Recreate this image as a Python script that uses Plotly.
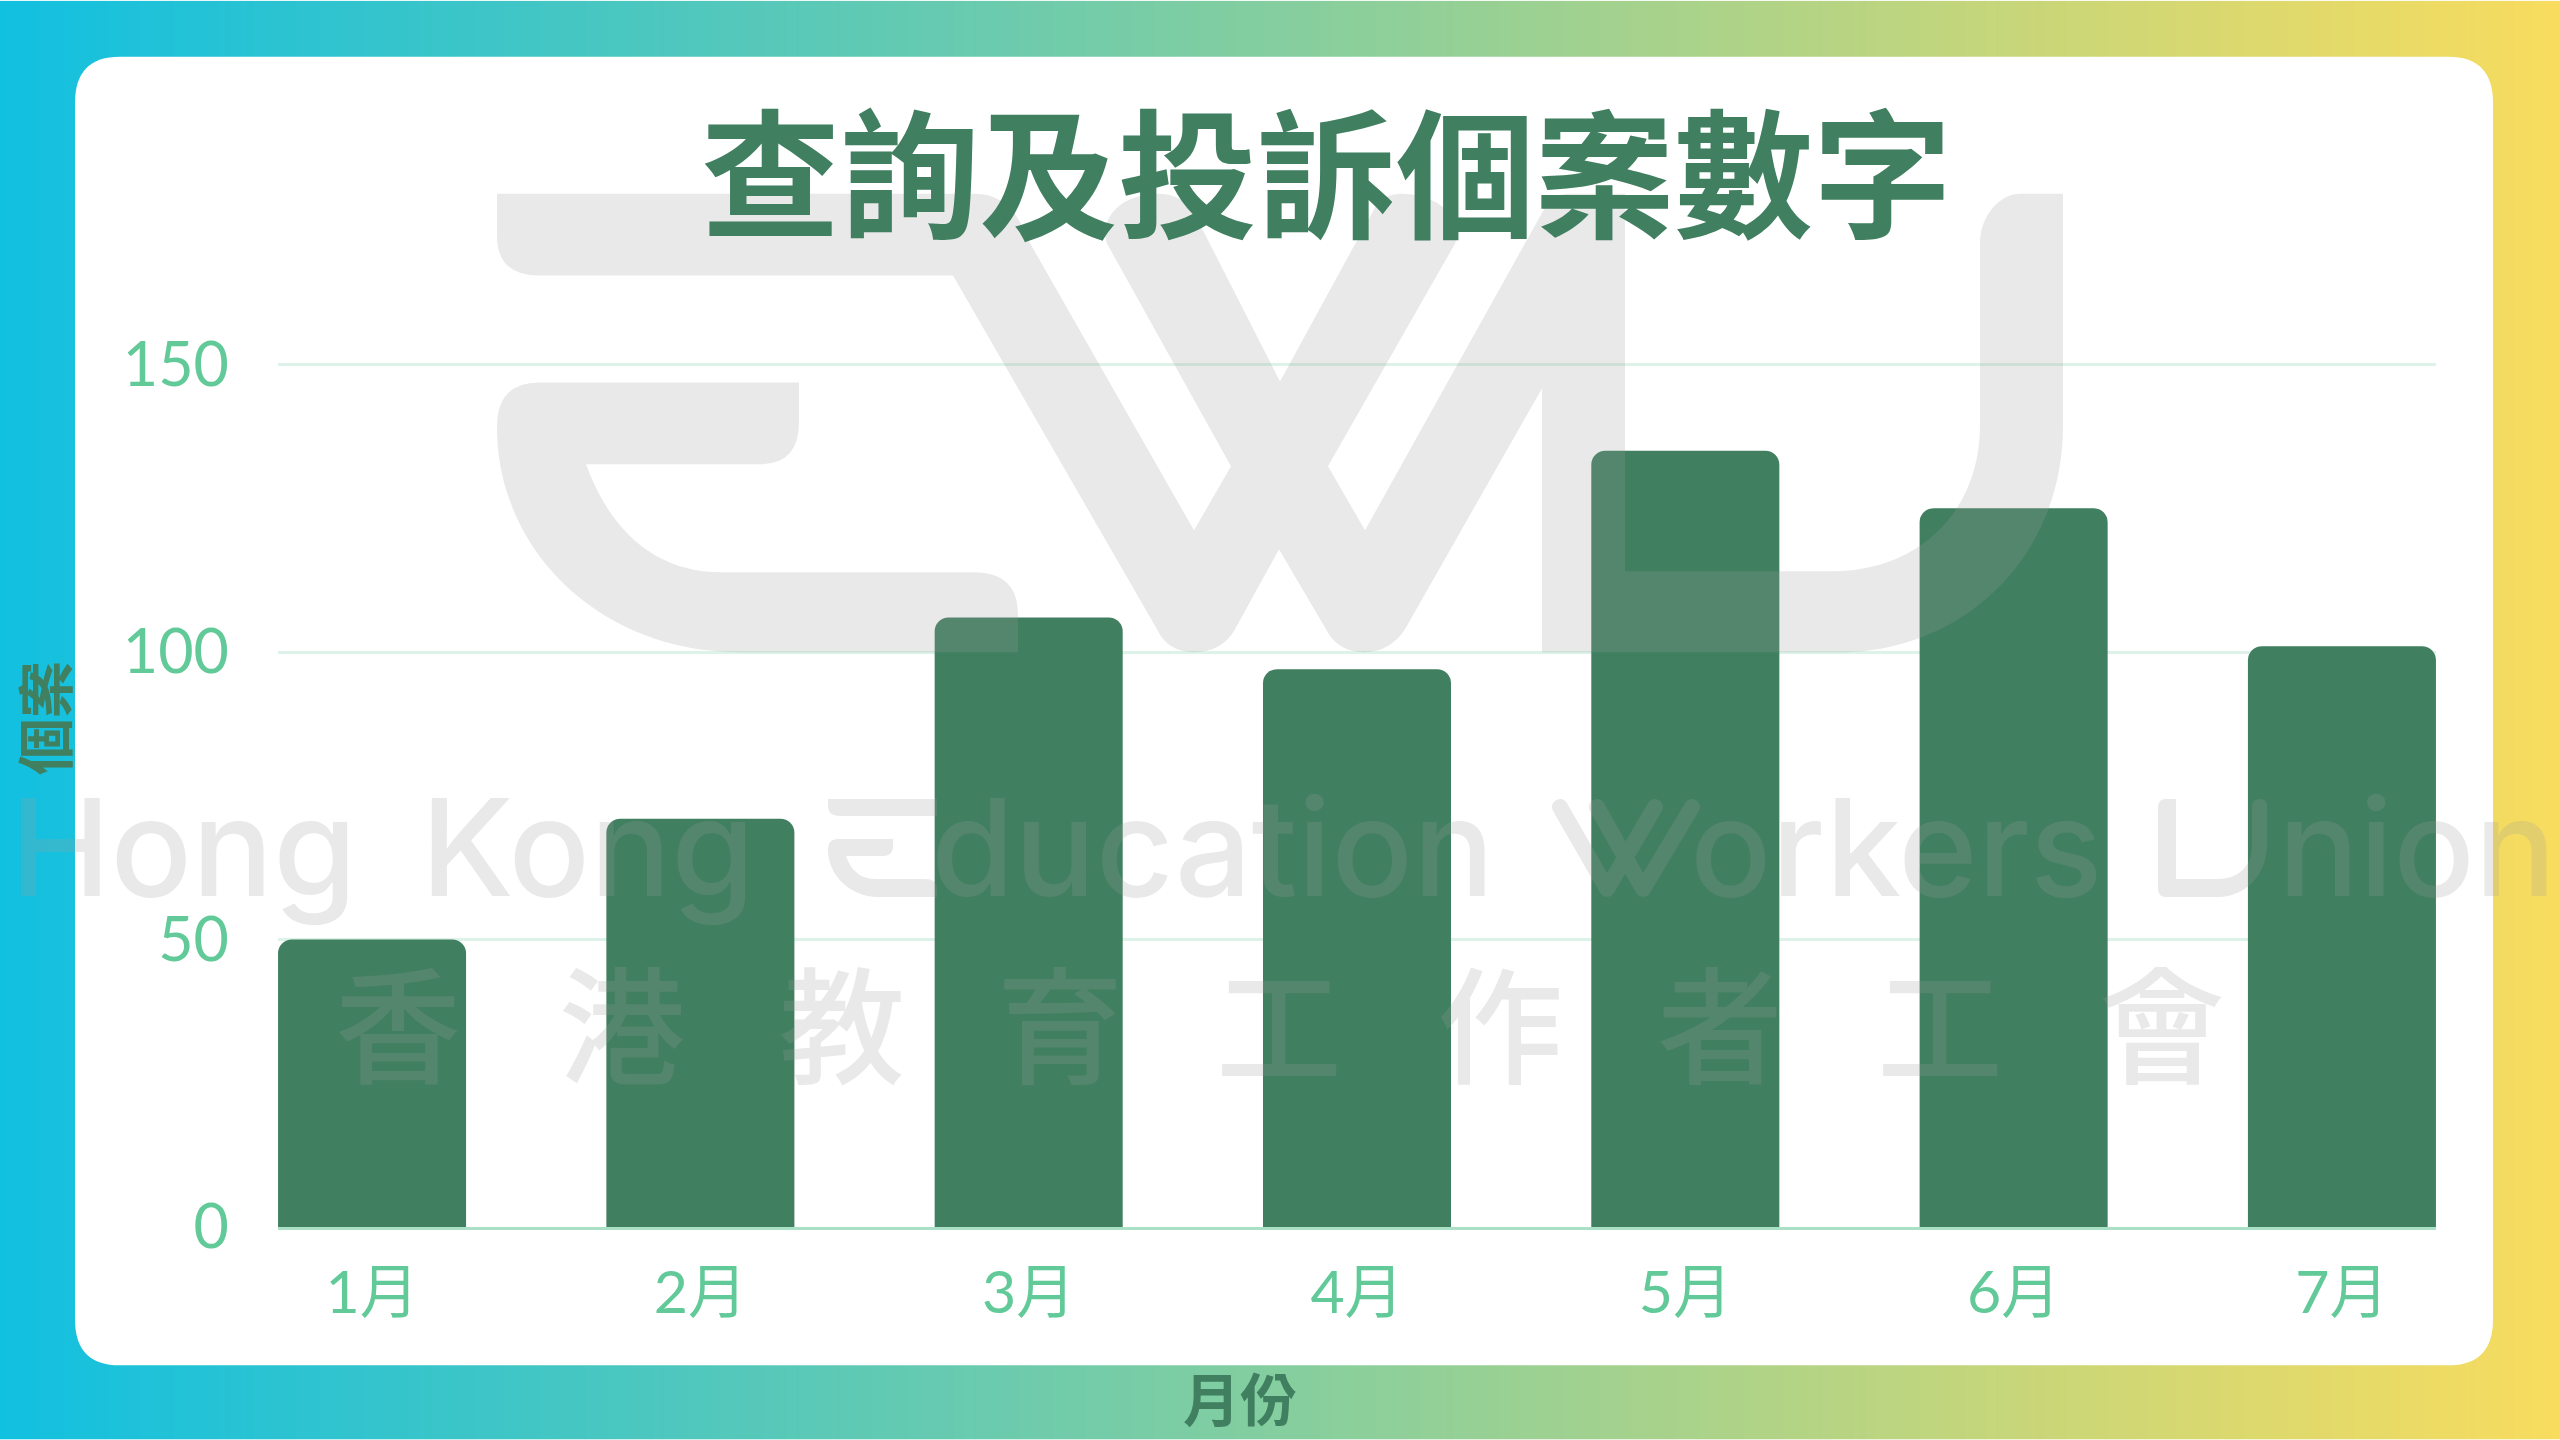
import base64, math, re, struct, zlib
import plotly.graph_objects as go

# ---- data ----
months = ["1月", "2月", "3月", "4月", "5月", "6月", "7月"]
cases = [50, 71, 106, 97, 135, 125, 101]
y_ticks = [0, 50, 100, 150]

title_text = "查詢及投訴個案數字"
x_title = "月份"
y_title = "個案"
wm_words = [("Hong", 8), ("Kong", 419), ("ducation", 929), ("orkers", 1688), ("nion", 2276)]
wm_chars = list("香港教育工作者工會")
wm_char_x = [398, 622, 842, 1060, 1279, 1500, 1720, 1940, 2162]

GREEN = "#407F60"
LIGHT = "#62C998"
GRID = "#DDF2E8"
AXIS = "#A9E0C6"
WM = "rgba(157,157,157,0.225)"

W, H = 2560, 1440
L, R, T, B = 278, 2436, 352.5, 1227.5
Y_TOP = 152


def px(x):
    return (x - L) / (R - L)


def py(y):
    return 1 - (y - T) / (B - T)


def conv(path):
    """Turn a path written in page pixels into paper fractions."""
    out, is_x = [], True
    for tok in re.findall(r"[A-Za-z]|-?\d+\.?\d*", path):
        if tok.isalpha():
            out.append(tok)
            is_x = True
        else:
            v = float(tok)
            out.append(f"{px(v) if is_x else py(v):.5f}")
            is_x = not is_x
    return " ".join(out)


def capsule(x1, y1, x2, y2, w):
    dx, dy = x2 - x1, y2 - y1
    n = math.hypot(dx, dy)
    ux, uy = dx / n, dy / n
    nx, ny = -uy * w / 2, ux * w / 2
    ex, ey = ux * w / 2, uy * w / 2
    p = lambda a, b: f"{a:.2f} {b:.2f}"
    return (
        f"M {p(x1+nx, y1+ny)} L {p(x2+nx, y2+ny)} "
        f"C {p(x2+nx+ex*1.3, y2+ny+ey*1.3)} {p(x2-nx+ex*1.3, y2-ny+ey*1.3)} {p(x2-nx, y2-ny)} "
        f"L {p(x1-nx, y1-ny)} "
        f"C {p(x1-nx-ex*1.3, y1-ny-ey*1.3)} {p(x1+nx-ex*1.3, y1+ny-ey*1.3)} {p(x1+nx, y1+ny)} Z"
    )


def gradient_png(c0, c1, n=1024):
    row = bytearray([0])
    for i in range(n):
        t = i / (n - 1)
        row += bytes(round(a + (b - a) * t) for a, b in zip(c0, c1))

    def chunk(tag, data):
        return struct.pack(">I", len(data)) + tag + data + struct.pack(">I", zlib.crc32(tag + data))

    png = b"\x89PNG\r\n\x1a\n" + chunk(b"IHDR", struct.pack(">IIBBBBB", n, 1, 8, 2, 0, 0, 0))
    png += chunk(b"IDAT", zlib.compress(bytes(row))) + chunk(b"IEND", b"")
    return "data:image/png;base64," + base64.b64encode(png).decode()


CARD = ("M 120 56 L 2448 56 Q 2493 56 2493 102 L 2493 1320 Q 2493 1366 2448 1366 "
        "L 120 1366 Q 75 1366 75 1320 L 75 102 Q 75 56 120 56 Z")
LOGO_MAIN = ("M 497 193 L 975 193 Q 1012 193 1028 239 L 1194 530 L 1231 466 L 1107 243 "
             "C 1098 215 1125 193 1157 193 C 1175 193 1187 200 1194 212 L 1280 381 L 1376 205 "
             "Q 1386 193 1401 193 C 1435 193 1465 215 1455 243 L 1328 466 L 1365 530 L 1546 205 "
             "Q 1553 193 1570 193 L 1625 193 L 1625 571 L 1832 571 C 1920 571 1980 510 1980 425 "
             "L 1980 243 C 1980 215 2000 193 2020 193 L 2063 193 L 2063 425 C 2063 560 1960 652 1840 652 "
             "L 1542 652 L 1542 388 L 1405 629 Q 1390 652 1364 652 Q 1338 652 1326 629 L 1279 549 "
             "L 1235 629 Q 1222 652 1194 652 Q 1168 652 1157 629 L 953 275 L 539 275 Q 497 275 497 235 Z")
LOGO_E = ("M 539 382 L 799 382 L 799 422 Q 799 464 759 464 L 586 464 C 610 530 655 572 721 572 "
          "L 974 572 Q 1018 572 1018 615 L 1018 652 L 740 652 C 600 652 497 550 497 427 Q 497 382 539 382 Z")
TXT_E = ("M 828 799 L 937 799 L 937 816 L 840 816 Q 828 816 828 806 Z "
         "M 838 839 L 893 839 L 893 846 Q 893 856 884 856 L 846 856 C 851 871 861 879 875 879 "
         "L 925 879 Q 937 879 937 889 L 937 897 L 878 897 C 850 897 828 875 828 850 Q 828 839 838 839 Z")
TXT_U = ("M 2166 799 L 2176 799 L 2176 879 L 2218 879 C 2240 879 2252 865 2252 845 L 2252 806 "
         "Q 2252 799 2260 799 Q 2267 799 2267 806 L 2267 845 C 2267 875 2245 897 2218 897 "
         "L 2166 897 Q 2158 897 2158 889 L 2158 807 Q 2158 799 2166 799 Z")
TXT_W = " ".join([capsule(1560, 807, 1607, 889, 16), capsule(1655, 807, 1607, 889, 16),
                  capsule(1597, 807, 1643, 889, 16), capsule(1692, 807, 1643, 889, 16)])


def overlay(path):
    return dict(type="path", xref="paper", yref="paper", path=conv(path), fillcolor=WM,
                fillrule="nonzero", line_width=0, layer="above")


shapes = [dict(type="path", xref="paper", yref="paper", path=conv(CARD), fillcolor="white",
               line_width=0, layer="below")]
shapes += [overlay(p) for p in (LOGO_MAIN, LOGO_E, TXT_E, TXT_U, TXT_W)]

annotations = [
    dict(text=x_title, xref="paper", yref="paper", x=px(1240), y=py(1397), xanchor="center", yanchor="middle",
         showarrow=False, font=dict(family="Noto Sans CJK TC", size=57, color=GREEN, weight="bold")),
    dict(text=y_title, xref="paper", yref="paper", x=px(42), y=py(718), xanchor="center", yanchor="middle",
         textangle=-90, showarrow=False, font=dict(family="Noto Sans CJK TC", size=57, color=GREEN, weight="bold")),
]
for word, left in wm_words:
    annotations.append(dict(text=word, xref="paper", yref="paper", x=px(left), y=py(897), xanchor="left",
                            yanchor="bottom", yshift=-34, showarrow=False,
                            font=dict(family="Inter", size=135, color=WM, weight=500)))
for ch, cx in zip(wm_chars, wm_char_x):
    annotations.append(dict(text=ch, xref="paper", yref="paper", x=px(cx), y=py(1019), xanchor="center",
                            yanchor="middle", showarrow=False,
                            font=dict(family="Noto Sans CJK JP", size=126, color=WM, weight=500)))

fig = go.Figure(go.Bar(x=months, y=cases, marker=dict(color=GREEN, line_width=0, cornerradius=14),
                       hoverinfo="skip"))
fig.update_layout(
    width=W, height=H, autosize=False,
    margin=dict(l=L, r=W - R, t=T, b=H - B, pad=0),
    paper_bgcolor="white", plot_bgcolor="rgba(0,0,0,0)",
    showlegend=False, bargap=0.4273,
    title=dict(text=title_text, x=(707 + 1946) / 2 / W, y=1 - 178 / H, xref="container", yref="container",
               xanchor="center", yanchor="middle",
               font=dict(family="Noto Sans CJK TC", size=139, color=GREEN, weight="bold")),
    images=[dict(source=gradient_png((18, 192, 224), (248, 220, 94)), xref="paper", yref="paper",
                 x=px(0), y=py(0), sizex=px(W) - px(0), sizey=py(0) - py(H), xanchor="left", yanchor="top",
                 sizing="stretch", layer="below")],
    shapes=shapes, annotations=annotations,
)
fig.update_xaxes(type="category", range=[-0.2865, 6.2865], showgrid=False, showline=True, linecolor=AXIS,
                 linewidth=3, ticks="", ticklabelstandoff=12, zeroline=False,
                 tickfont=dict(family="Lato, Noto Sans CJK TC", size=59, color=LIGHT))
fig.update_yaxes(range=[0, Y_TOP], tickvals=y_ticks, showgrid=True, gridcolor=GRID, gridwidth=3, zeroline=False,
                 showline=False, ticks="", ticklabelstandoff=48,
                 tickfont=dict(family="Lato, Noto Sans CJK TC", size=61, color=LIGHT))

fig.write_html("out.html", config=dict(displayModeBar=False),
               post_script="document.body.style.margin='0';document.body.style.overflow='hidden';")
